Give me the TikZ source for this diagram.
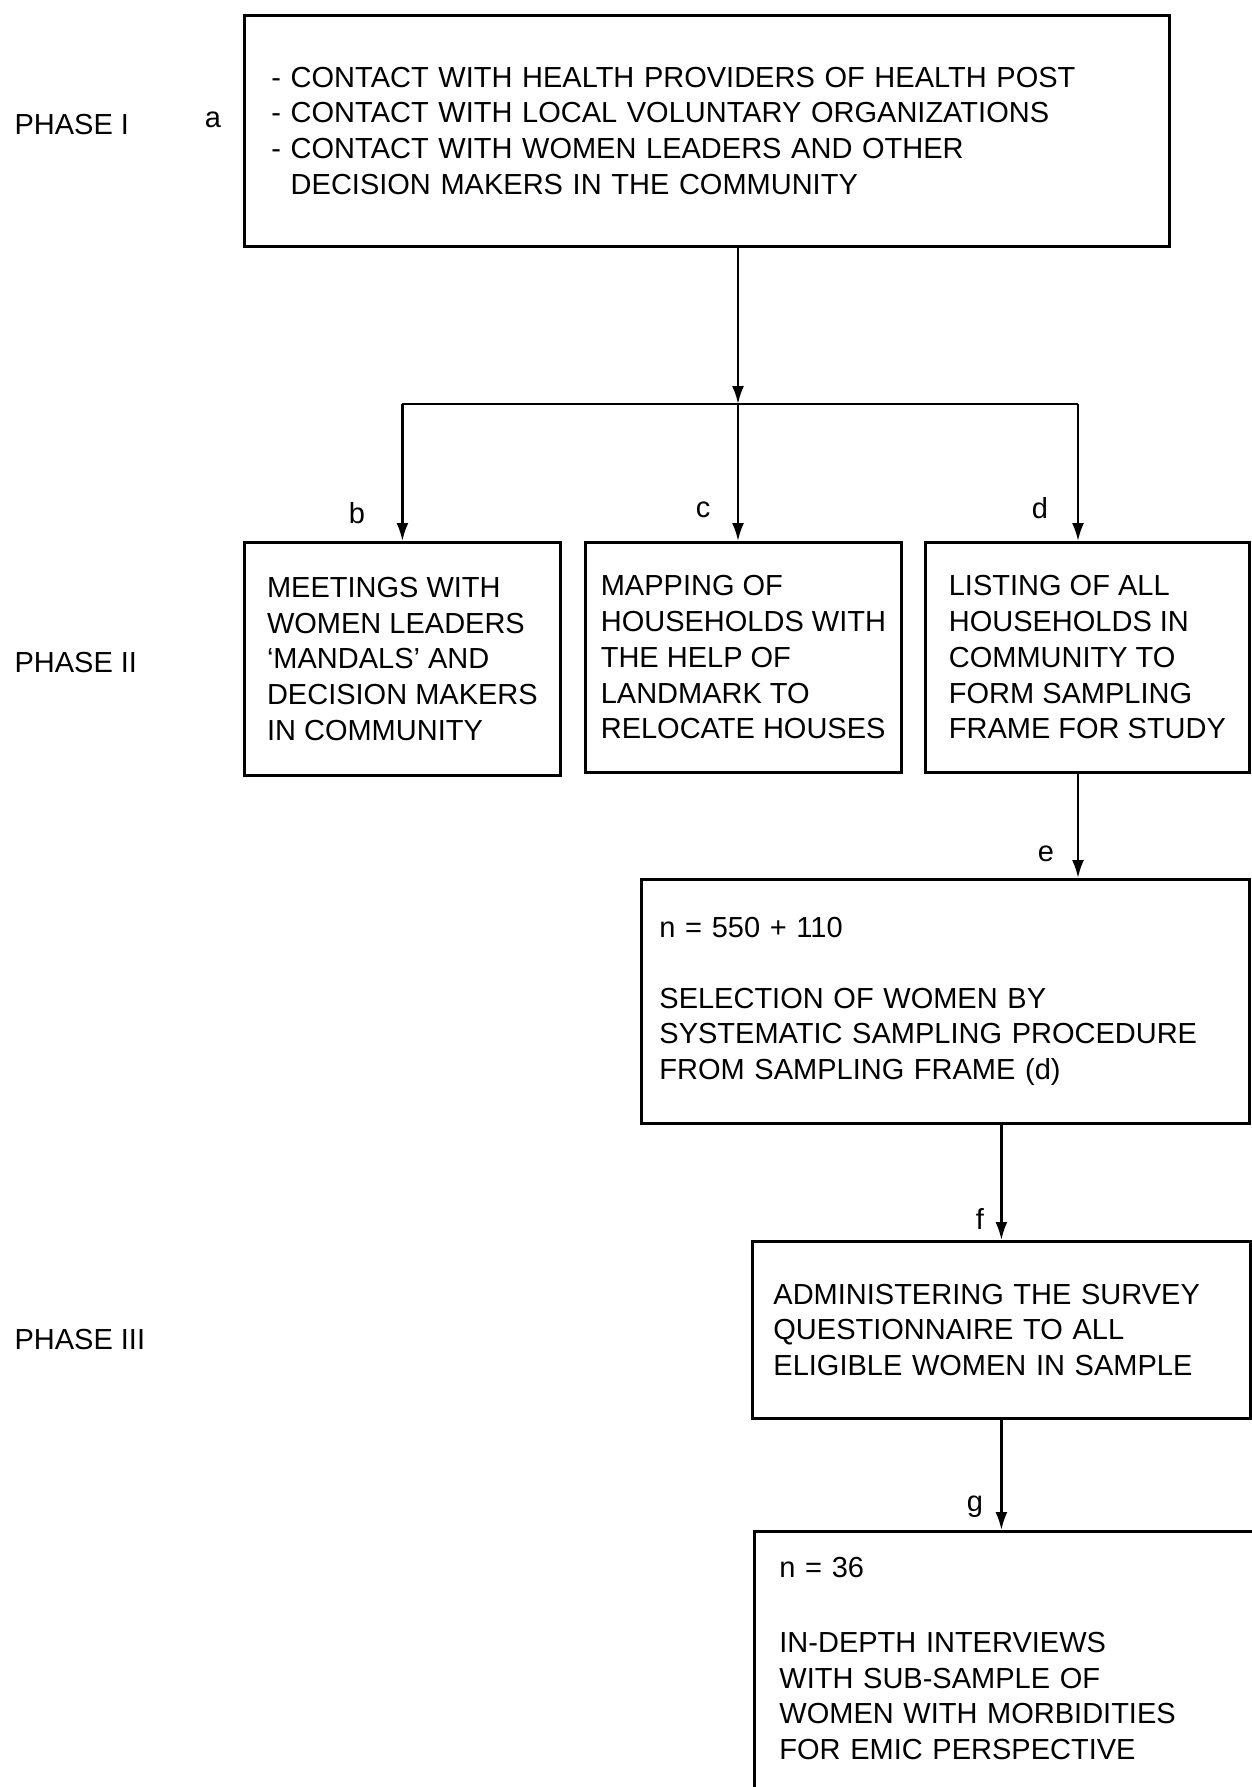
\documentclass[tikz,border=0pt]{standalone}
\usepackage{fontspec}
\setmainfont{Liberation Sans}
\usetikzlibrary{arrows.meta}
\tikzset{
  box/.style={draw,line width=2.8pt,anchor=north west,align=left,
    font=\fontsize{29}{35.8}\selectfont},
  lbl/.style={font=\fontsize{29}{35.8}\selectfont},
  arr/.style={line width=2.4pt,-{Latex[length=18pt,width=12pt]}},
  link/.style={line width=2.4pt}
}
\begin{document}
\begin{tikzpicture}[x=1pt,y=-1pt]
\useasboundingbox (0,0) rectangle (1251,1787);
% phase labels
\node[lbl,anchor=west] (p1) at (11,125) {PHASE I};
\node[lbl,anchor=west] (p2) at (11,663) {PHASE II};
\node[lbl,anchor=west] (p3) at (11,1340) {PHASE III};
% boxes
\node[box,text width=871pt,inner xsep=27pt,minimum height=231pt] (a) at (243,14)
  {- CONTACT WITH HEALTH PROVIDERS OF HEALTH POST\\
   - CONTACT WITH LOCAL VOLUNTARY ORGANIZATIONS\\
   - CONTACT WITH WOMEN LEADERS AND OTHER\\
   \hphantom{- }DECISION MAKERS IN THE COMMUNITY};
\node[box,minimum width=316pt,minimum height=233pt] (b) at (243,541)
  {MEETINGS WITH\\WOMEN LEADERS\\‘MANDALS’ AND\\DECISION MAKERS\\IN COMMUNITY};
\node[box,minimum width=316pt,minimum height=230pt] (c) at (584,541)
  {MAPPING OF\\HOUSEHOLDS WITH\\THE HELP OF\\LANDMARK TO\\RELOCATE HOUSES};
\node[box,minimum width=324pt,minimum height=230pt] (d) at (924,541)
  {LISTING OF ALL\\HOUSEHOLDS IN\\COMMUNITY TO\\FORM SAMPLING\\FRAME FOR STUDY};
\node[box,text width=572pt,inner xsep=18pt,minimum height=244pt] (e) at (640,878)
  {n = 550 + 110\\[35pt]SELECTION OF WOMEN BY\\SYSTEMATIC SAMPLING PROCEDURE\\FROM SAMPLING FRAME (d)};
\node[box,text width=456pt,inner xsep=21pt,minimum height=177pt] (f) at (751,1240)
  {ADMINISTERING THE SURVEY\\QUESTIONNAIRE TO ALL\\ELIGIBLE WOMEN IN SAMPLE};
\node[box,text width=467pt,inner xsep=25pt,minimum height=290pt] (g) at (753,1530)
  {n = 36\\[39pt]IN-DEPTH INTERVIEWS\\WITH SUB-SAMPLE OF\\WOMEN WITH MORBIDITIES\\FOR EMIC PERSPECTIVE\\\mbox{}};
% letters
\node[lbl] (la) at (213,120) {a};
\node[lbl] (lb) at (357,513) {b};
\node[lbl] (lc) at (703,510) {c};
\node[lbl] (ld) at (1040,508) {d};
\node[lbl] (le) at (1046,854) {e};
\node[lbl] (lf) at (980,1219) {f};
\node[lbl] (lg) at (975,1507) {g};
% connectors
\coordinate (split) at (738,404);
\coordinate (dcol) at (1078,404);
\draw[arr] (a.south -| split) -- (split);
\draw[link] (b.north |- split) -- (dcol);
\draw[arr] (b.north |- split) -- (b.north);
\draw[arr] (split) -- (split |- c.north);
\draw[arr] (dcol) -- (dcol |- d.north);
\draw[arr] (dcol |- d.south) -- (dcol |- e.north);
\draw[arr] (e.south -| f.north) -- (f.north);
\draw[arr] (f.south) -- (f.south |- g.north);
\end{tikzpicture}
\end{document}
